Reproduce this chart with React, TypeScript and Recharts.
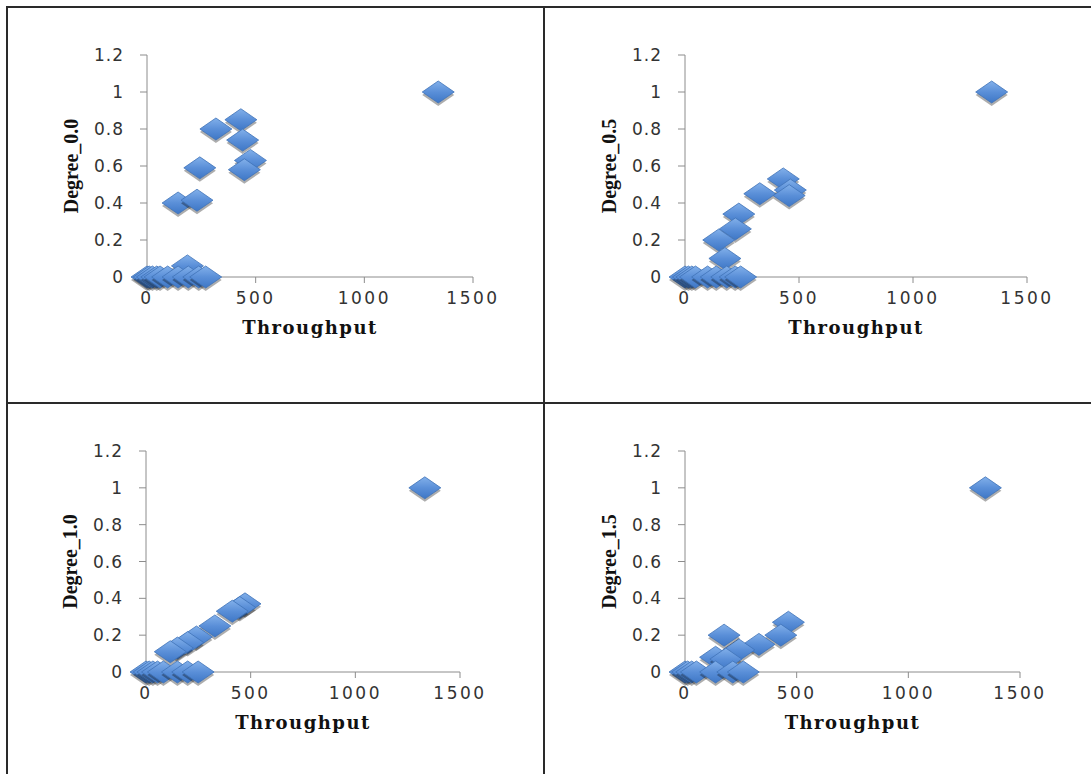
import { FC } from 'react';
import { ScatterChart, Scatter, XAxis, YAxis } from 'recharts';

const X_TICKS = [0, 500, 1000, 1500];
const Y_TICKS = [0, 0.2, 0.4, 0.6, 0.8, 1, 1.2];

const DEG00_X = [1340, 317, 432, 440, 476, 448, 243, 143, 230, 186, 0, 10, 25, 45, 60, 95, 143, 190, 238, 270];
const DEG00_Y = [1.0, 0.8, 0.85, 0.74, 0.63, 0.58, 0.59, 0.4, 0.415, 0.06, 0, 0, 0, 0, 0, 0, 0, 0, 0, 0];

const DEG05_X = [1345, 328, 431, 462, 457, 236, 221, 148, 175, 0, 15, 30, 46, 99, 137, 183, 220, 244];
const DEG05_Y = [1.0, 0.45, 0.53, 0.47, 0.44, 0.34, 0.26, 0.2, 0.1, 0, 0, 0, 0, 0, 0, 0, 0, 0];

const DEG10_X = [1332, 473, 448, 412, 329, 241, 199, 150, 116, 0, 15, 33, 55, 83, 150, 199, 249];
const DEG10_Y = [1.0, 0.37, 0.35, 0.33, 0.25, 0.19, 0.16, 0.13, 0.11, 0, 0, 0, 0, 0, 0, 0, 0];

const DEG15_X = [1345, 463, 429, 331, 241, 175, 137, 183, 0, 12, 30, 51, 137, 214, 261];
const DEG15_Y = [1.0, 0.27, 0.2, 0.15, 0.12, 0.2, 0.08, 0.07, 0, 0, 0, 0, 0, 0, 0];

const zip = (xs: number[], ys: number[]) => xs.map((x, i) => ({ x, y: ys[i] }));

const Diamond: FC<any> = ({ cx, cy }) => {
  if (cx == null || cy == null) return null;
  const w = 16;
  const h = 11;
  const pts = (dx: number, dy: number) =>
    `${cx + dx},${cy + dy - h} ${cx + dx + w},${cy + dy} ${cx + dx},${cy + dy + h} ${cx + dx - w},${cy + dy}`;
  return (
    <g>
      <polygon points={pts(0, 3)} fill="#000" fillOpacity={0.32} />
      <polygon points={pts(0, 0)} fill="url(#diamondFill)" stroke="#3f72b8" strokeWidth={0.8} />
    </g>
  );
};

interface PanelProps {
  label: string;
  data: { x: number; y: number }[];
  left: number;
  top: number;
  width: number;
  height: number;
  x0: number;
  x1: number;
  yTop: number;
  yBot: number;
}

const Y_AXIS_W = 80;
const X_AXIS_H = 60;

const tickStyle = { fontFamily: 'DejaVu Sans', fontSize: 17, fill: '#333' };

const Panel: FC<PanelProps> = ({ label, data, left, top, width, height, x0, x1, yTop, yBot }) => {
  const margin = {
    left: x0 - left - Y_AXIS_W,
    right: left + width - x1,
    top: yTop - top,
    bottom: top + height - yBot - X_AXIS_H
  };
  return (
    <div style={{ position: 'absolute', left, top, width, height }}>
      <ScatterChart width={width} height={height} margin={margin}>
        <XAxis
          type="number"
          dataKey="x"
          domain={[0, 1500]}
          ticks={X_TICKS}
          height={X_AXIS_H}
          stroke="#8c8c8c"
          tickSize={6}
          tickMargin={9}
          tick={{ ...tickStyle, letterSpacing: 2.5 }}
          label={{
            value: 'Throughput',
            position: 'insideBottom',
            offset: 3,
            style: { fontFamily: 'DejaVu Serif', fontWeight: 'bold', fontSize: 18, fill: '#111', letterSpacing: 1.5 }
          }}
        />
        <YAxis
          type="number"
          dataKey="y"
          domain={[0, 1.2]}
          ticks={Y_TICKS}
          width={Y_AXIS_W}
          stroke="#8c8c8c"
          tickSize={7}
          tickMargin={16}
          tick={{ ...tickStyle, letterSpacing: 1 }}
          label={{
            value: label,
            angle: -90,
            position: 'insideLeft',
            offset: 4,
            style: { textAnchor: 'middle', fontFamily: 'Liberation Serif', fontWeight: 'bold', fontSize: 20, fill: '#111' }
          }}
        />
        <Scatter data={data} shape={<Diamond />} isAnimationActive={false} />
      </ScatterChart>
    </div>
  );
};

const line = '#2a2a2a';

export default function App() {
  return (
    <div style={{ position: 'absolute', left: 0, top: 0, width: 1091, height: 774, background: '#fff', overflow: 'hidden' }}>
      <svg width={0} height={0} style={{ position: 'absolute' }}>
        <defs>
          <linearGradient id="diamondFill" x1="0" y1="0" x2="0" y2="1">
            <stop offset="0%" stopColor="#82b0ea" />
            <stop offset="50%" stopColor="#5a8fd8" />
            <stop offset="100%" stopColor="#3e77c6" />
          </linearGradient>
        </defs>
      </svg>
      <div style={{ position: 'absolute', left: 6, top: 6, width: 1085, height: 2, background: line }} />
      <div style={{ position: 'absolute', left: 6, top: 6, width: 2, height: 768, background: line }} />
      <div style={{ position: 'absolute', left: 543, top: 6, width: 2, height: 768, background: line }} />
      <div style={{ position: 'absolute', left: 6, top: 402, width: 1085, height: 2, background: line }} />
      <Panel label="Degree_0.0" data={zip(DEG00_X, DEG00_Y)} left={9} top={9} width={534} height={393} x0={147} x1={473} yTop={55} yBot={277} />
      <Panel label="Degree_0.5" data={zip(DEG05_X, DEG05_Y)} left={546} top={9} width={545} height={393} x0={685} x1={1027} yTop={55} yBot={277} />
      <Panel label="Degree_1.0" data={zip(DEG10_X, DEG10_Y)} left={9} top={404} width={534} height={370} x0={146} x1={460} yTop={451} yBot={672} />
      <Panel label="Degree_1.5" data={zip(DEG15_X, DEG15_Y)} left={546} top={404} width={545} height={370} x0={685} x1={1020} yTop={451} yBot={672} />
    </div>
  );
}
